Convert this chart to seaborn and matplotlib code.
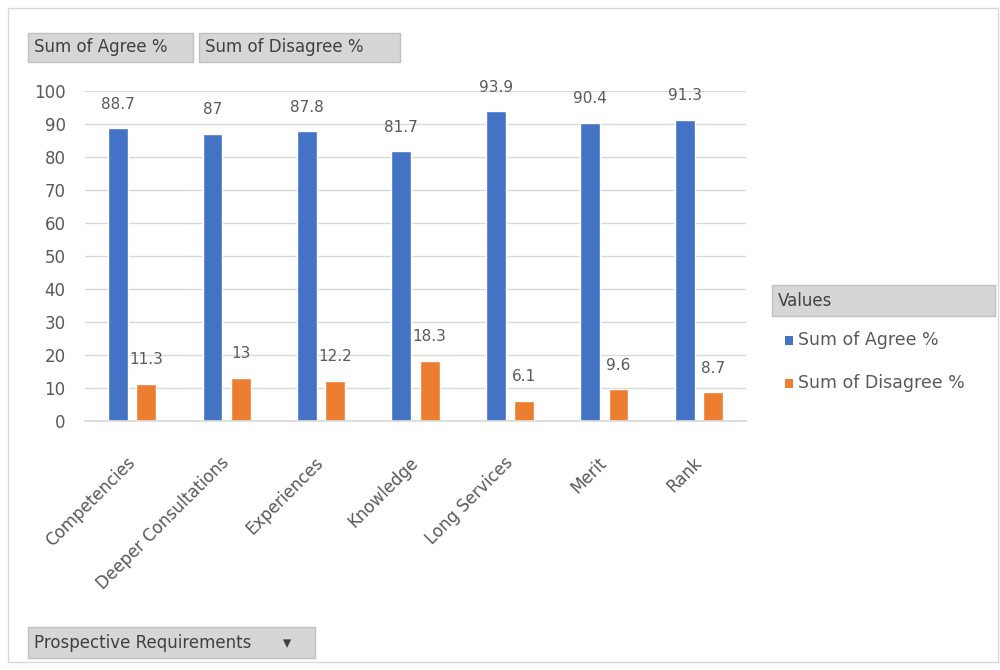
import matplotlib
matplotlib.use("Agg")
import matplotlib.pyplot as plt
import pandas as pd
import seaborn as sns
from matplotlib.patches import Rectangle

# data
categories = ["Competencies", "Deeper Consultations", "Experiences", "Knowledge",
              "Long Services", "Merit", "Rank"]
agree = [88.7, 87, 87.8, 81.7, 93.9, 90.4, 91.3]
disagree = [11.3, 13, 12.2, 18.3, 6.1, 9.6, 8.7]
series_names = ["Sum of Agree %", "Sum of Disagree %"]
colors = ["#4472C4", "#ED7D31"]
y_ticks = list(range(0, 101, 10))

df = pd.DataFrame({
    "category": categories * 2,
    "value": agree + disagree,
    "series": [series_names[0]] * len(categories) + [series_names[1]] * len(categories),
})

sns.set_theme(style="white")
plt.rcParams["font.family"] = ["DejaVu Sans"]
text_color = "#595959"

fig = plt.figure(figsize=(10, 6.7), dpi=100)
ax = fig.add_axes([0.085, 0.3716, 0.661, 0.4925])

sns.barplot(data=df, x="category", y="value", hue="series", order=categories,
            hue_order=series_names, palette=colors, width=0.6, gap=0.3,
            saturation=1, ax=ax, legend=False)

# data labels above bars
for cont, vals in zip(ax.containers, [agree, disagree]):
    labels = [f"{v:g}" for v in vals]
    ax.bar_label(cont, labels=labels, padding=12, fontsize=11, color=text_color)

ax.set_ylim(0, 100)
ax.set_xlim(-0.5, len(categories) - 0.5)
ax.set_yticks(y_ticks)
ax.yaxis.grid(True, color="#d9d9d9", linewidth=1)
ax.set_axisbelow(True)
ax.set_xlabel("")
ax.set_ylabel("")
for side in ["top", "right", "left"]:
    ax.spines[side].set_visible(False)
ax.spines["bottom"].set_color("#d9d9d9")
ax.tick_params(axis="y", labelsize=12, labelcolor=text_color, length=0, pad=14)
ax.tick_params(axis="x", labelsize=12, labelcolor=text_color, length=0, pad=28)
for lbl in ax.get_xticklabels():
    lbl.set_rotation(45)
    lbl.set_ha("right")
    lbl.set_va("center")
    lbl.set_rotation_mode("anchor")
for t in ax.texts:
    t.set_clip_on(False)

# outer chart border
fig.patches.append(Rectangle((0.008, 0.012), 0.99, 0.976, transform=fig.transFigure,
                             fill=False, edgecolor="#d9d9d9", linewidth=1))


def button(x0, x1, y0, y1, label):
    # field button drawn in figure pixel coords
    fig.patches.append(Rectangle((x0 / 1000, 1 - y1 / 670), (x1 - x0) / 1000, (y1 - y0) / 670,
                                 transform=fig.transFigure, facecolor="#d6d6d6",
                                 edgecolor="#c0c0c0", linewidth=1))
    fig.text((x0 + 6) / 1000, 1 - (y0 + y1) / 2 / 670, label, fontsize=12,
             color="#404040", va="center")


button(28, 193, 33, 62, "Sum of Agree %")
button(199, 400, 33, 62, "Sum of Disagree %")
button(28, 315, 627, 658, "Prospective Requirements      \u25be")
button(772, 995, 285, 316, "Values")

for i, (name, c) in enumerate(zip(series_names, colors)):
    y = 0.492 - i * 0.064
    fig.patches.append(Rectangle((0.785, y - 0.007), 0.008, 0.013, transform=fig.transFigure,
                                 facecolor=c, edgecolor="none"))
    fig.text(0.798, y, name, fontsize=12.5, color=text_color, va="center")

fig.savefig("out.png", dpi=100, facecolor="white")
